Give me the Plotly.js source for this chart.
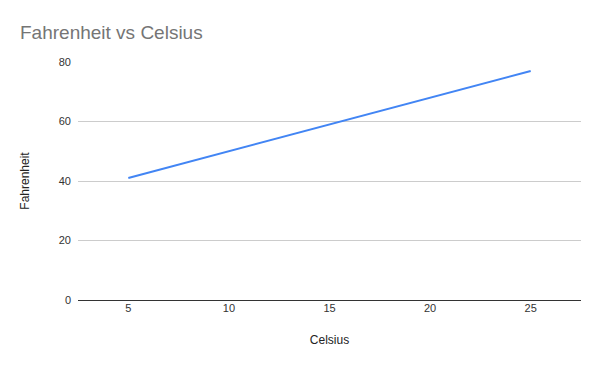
<!DOCTYPE html>
<html>
<head>
<meta charset="utf-8">
<script src="https://cdn.plot.ly/plotly-3.0.1.min.js"></script>
<style>html,body{margin:0;padding:0;background:#fff;}#chart{width:600px;height:371px;}</style>
</head>
<body>
<div id="chart"></div>
<script>
const celsius = [5, 10, 15, 20, 25];
const fahrenheit = [41, 50, 59, 68, 77];
const yTicks = [0, 20, 40, 60, 80];
const xTicks = [5, 10, 15, 20, 25];

const trace = {
  x: celsius,
  y: fahrenheit,
  type: 'scatter',
  mode: 'lines',
  line: {color: '#4285f4', width: 2},
  hoverinfo: 'x+y'
};

const layout = {
  width: 600,
  height: 371,
  margin: {l: 78, r: 19, t: 61.5, b: 71},
  paper_bgcolor: '#ffffff',
  plot_bgcolor: '#ffffff',
  font: {family: 'Liberation Sans, Arial, sans-serif', size: 11, color: '#333333'},
  title: {
    text: 'Fahrenheit vs Celsius',
    font: {family: 'Liberation Sans, Arial, sans-serif', size: 19, color: '#757575'},
    xref: 'container', x: 20 / 600, xanchor: 'left',
    yref: 'container', y: 1 - 32 / 371, yanchor: 'middle'
  },
  showlegend: false,
  xaxis: {
    range: [2.5, 27.5],
    tickvals: xTicks,
    ticktext: xTicks.map(String),
    showgrid: false,
    zeroline: false,
    showline: false,
    ticks: '',
    tickfont: {size: 11, color: '#333333'},
    title: {text: 'Celsius', font: {size: 12, color: '#222222'}, standoff: 22}
  },
  yaxis: {
    range: [0, 80],
    tickvals: yTicks,
    ticktext: yTicks.map(String),
    showgrid: true,
    gridcolor: '#cccccc',
    gridwidth: 1,
    zeroline: true,
    zerolinecolor: '#333333',
    zerolinewidth: 1,
    showline: false,
    ticks: '',
    ticklabelstandoff: 6,
    tickfont: {size: 11, color: '#333333'},
    title: {text: 'Fahrenheit', font: {size: 12, color: '#222222'}, standoff: 26}
  }
};

Plotly.newPlot('chart', [trace], layout, {displayModeBar: false, staticPlot: true});
</script>
</body>
</html>
